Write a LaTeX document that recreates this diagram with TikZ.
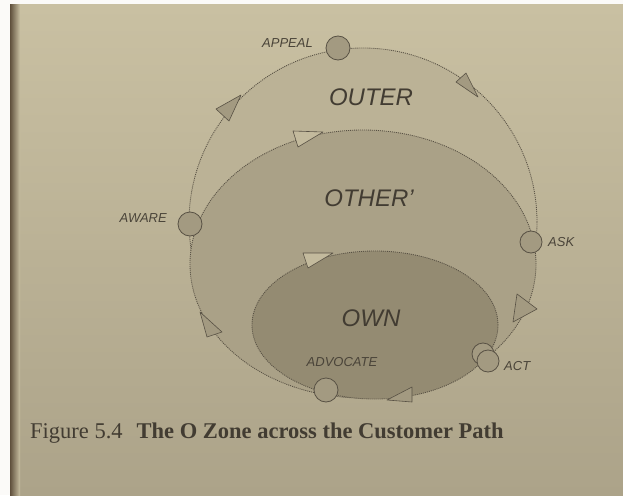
\documentclass[tikz,border=0pt]{standalone}
\usepackage{fontspec}
\setmainfont{Liberation Serif}
\setsansfont{Liberation Sans}
\definecolor{paperA}{RGB}{201,192,162}
\definecolor{paperB}{RGB}{172,163,137}
\definecolor{stripC}{RGB}{95,80,60}
\definecolor{outerF}{RGB}{187,178,150}
\definecolor{otherF}{RGB}{170,161,135}
\definecolor{ownF}{RGB}{148,139,114}
\definecolor{lineC}{RGB}{88,81,68}
\definecolor{markF}{RGB}{163,154,129}
\definecolor{txtC}{RGB}{66,60,50}
\tikzset{
  zone/.style={draw=lineC, line width=0.85pt, dash pattern=on 1pt off 1pt},
  marker/.style={circle, draw=lineC, fill=markF, line width=0.8pt, minimum size=24pt, inner sep=0pt},
  tri/.style={draw=lineC, fill=markF, line width=0.6pt, line join=round},
  lighttri/.style={tri, fill=paperA!85!markF},
  smalllbl/.style={text=txtC!92!paperB, font=\sffamily\itshape\fontsize{13}{13}\selectfont, inner sep=0pt},
  biglbl/.style={text=txtC, font=\sffamily\itshape\fontsize{24}{24}\selectfont, inner sep=0pt},
  captxt/.style={text=txtC, font=\fontsize{22.5}{22.5}\selectfont, inner sep=0pt}
}
\begin{document}
\begin{tikzpicture}[x=1pt,y=-1pt]
\useasboundingbox (0,0) rectangle (623,495);
% page / photo background
\fill[white!92!paperA] (0,0) rectangle (623,495);
\shade[top color=paperA, bottom color=paperB] (10,5) rectangle (623,495);
\shade[left color=stripC, right color=paperA] (10,5) rectangle (20,495);
% zones
\filldraw[zone, fill=outerF] (363,222) circle[radius=174pt];
\filldraw[zone, fill=otherF] (363,264) ellipse[x radius=173pt, y radius=134pt];
\filldraw[zone, fill=ownF] (375,325) ellipse[x radius=123pt, y radius=74pt];
% direction triangles
\filldraw[tri] (216,109) -- (241,95) -- (229,121) -- cycle;
\filldraw[tri] (456,82) -- (466,73) -- (478,97) -- cycle;
\filldraw[lighttri] (293,131) -- (323,132) -- (298,147) -- cycle;
\filldraw[lighttri] (303,253) -- (333,253) -- (308,268) -- cycle;
\filldraw[tri] (517,294) -- (537,309) -- (513,322) -- cycle;
\filldraw[tri] (200,312) -- (222,332) -- (207,337) -- cycle;
\filldraw[tri] (387,400) -- (412,387) -- (412,402) -- cycle;
% stage markers
\node[marker] (appeal) at (338,48) {};
\node[marker] (aware) at (190,224) {};
\node[marker, minimum size=22pt] (ask) at (531,242) {};
\node[marker, minimum size=22pt] (actb) at (483,354) {};
\node[marker, minimum size=22pt] (act) at (488,361) {};
\node[marker] (advocate) at (326,390) {};
% stage labels
\node[smalllbl, anchor=east] (lappeal) at (313,43) {APPEAL};
\node[smalllbl, anchor=east] (laware) at (167,218) {AWARE};
\node[smalllbl, anchor=west] (lask) at (548,242) {ASK};
\node[smalllbl, anchor=west] (lact) at (504,366) {ACT};
\node[smalllbl] (ladvocate) at (342,362) {ADVOCATE};
% zone labels
\node[biglbl] (louter) at (371,97) {OUTER};
\node[biglbl] (lother) at (369,198) {OTHER'};
\node[biglbl] (lown) at (371,318) {OWN};
% caption
\node[captxt, anchor=base west] (caption) at (30,438) {Figure 5.4\hspace{14pt}\textbf{The O Zone across the Customer Path}};
\end{tikzpicture}
\end{document}
